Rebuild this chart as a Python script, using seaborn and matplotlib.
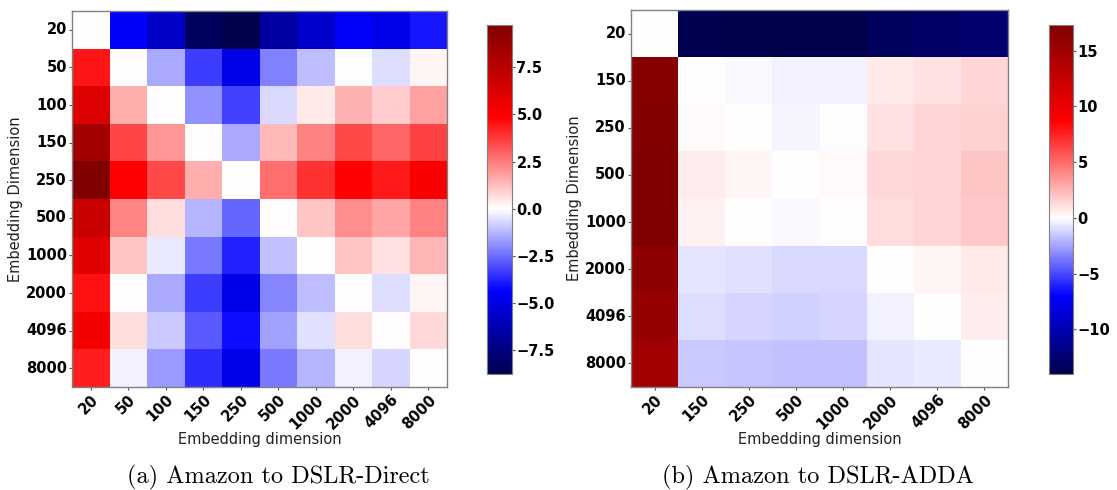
import numpy as np
import pandas as pd
import matplotlib
matplotlib.use("Agg")
import matplotlib.pyplot as plt
from matplotlib.colors import TwoSlopeNorm
import seaborn as sns

# ---------------- data ----------------
direct_dims = ["20", "50", "100", "150", "250", "500", "1000", "2000", "4096", "8000"]
direct_values = [
    [0.00, -4.40, -5.74, -8.33, -8.77, -6.70, -5.60, -4.50, -4.90, -4.00],
    [4.48, 0.00, -1.46, -3.35, -4.90, -2.19, -1.12, -0.05, -0.60, 0.20],
    [6.20, 1.53, 0.00, -1.89, -3.27, -0.64, 0.44, 1.47, 0.95, 1.81],
    [8.31, 3.53, 2.00, 0.00, -1.46, 1.34, 2.43, 3.50, 2.96, 3.63],
    [9.74, 4.87, 3.44, 1.53, 0.00, 2.77, 3.92, 4.85, 4.39, 5.06],
    [6.97, 2.29, 0.67, -1.29, -2.67, 0.00, 1.14, 2.20, 1.72, 2.43],
    [6.02, 1.14, -0.40, -2.32, -3.78, -1.03, 0.00, 1.14, 0.58, 1.43],
    [4.53, 0.00, -1.46, -3.35, -4.90, -2.06, -1.12, 0.00, -0.60, 0.20],
    [5.26, 0.63, -0.95, -2.84, -4.12, -1.63, -0.52, 0.63, 0.00, 0.76],
    [4.30, -0.22, -1.72, -3.61, -4.90, -2.32, -1.29, -0.22, -0.69, 0.00],
]
direct_cbar_ticks = [-7.5, -5.0, -2.5, 0.0, 2.5, 5.0, 7.5]

adda_dims = ["20", "150", "250", "500", "1000", "2000", "4096", "8000"]
adda_values = [
    [0.00, -13.7, -13.9, -14.0, -13.9, -13.3, -13.0, -12.5],
    [16.8, 0.00, -0.20, -0.40, -0.36, 0.78, 1.02, 1.46],
    [17.1, 0.24, 0.10, -0.30, -0.08, 1.02, 1.36, 1.60],
    [17.3, 0.58, 0.30, 0.00, 0.24, 1.26, 1.46, 1.93],
    [17.2, 0.44, 0.10, -0.20, 0.00, 1.19, 1.36, 1.87],
    [16.3, -0.74, -0.82, -1.02, -1.02, 0.00, 0.34, 0.78],
    [15.7, -0.96, -1.10, -1.29, -1.18, -0.41, 0.00, 0.58],
    [15.0, -1.51, -1.56, -1.73, -1.65, -0.74, -0.55, 0.00],
]
adda_cbar_ticks = [-10, -5, 0, 5, 10, 15]

axis_label_x = "Embedding dimension"
axis_label_y = "Embedding Dimension"
captions = ["(a) Amazon to DSLR-Direct", "(b) Amazon to DSLR-ADDA"]

# ---------------- figure ----------------
plt.rcParams["font.family"] = ["DejaVu Sans"]
plt.rcParams["font.weight"] = "bold"

W, H = 1117, 490
fig = plt.figure(figsize=(W / 100, H / 100), dpi=100)
fig.patch.set_facecolor("white")


def px_axes(x0, y0, x1, y1):
    return fig.add_axes([x0 / W, 1 - y1 / H, (x1 - x0) / W, (y1 - y0) / H])


panels = [
    dict(dims=direct_dims, vals=direct_values, ticks=direct_cbar_ticks,
         ax=(72, 11, 447, 387), cax=(487, 25, 512, 374), cap_x=278),
    dict(dims=adda_dims, vals=adda_values, ticks=adda_cbar_ticks,
         ax=(631, 10, 1008, 387), cax=(1049, 25, 1073, 374), cap_x=818),
]

for p in panels:
    df = pd.DataFrame(p["vals"], index=p["dims"], columns=p["dims"])
    vmin, vmax = float(df.values.min()), float(df.values.max())
    norm = TwoSlopeNorm(vmin=vmin, vcenter=0.0, vmax=vmax)
    ax = px_axes(*p["ax"])
    cax = px_axes(*p["cax"])
    sns.heatmap(df, ax=ax, cbar_ax=cax, cmap="seismic", norm=norm,
                linewidths=0)
    for sp in ax.spines.values():
        sp.set_visible(True)
        sp.set_color("#808080")
        sp.set_linewidth(1.0)
    ax.tick_params(axis="both", length=2.5, width=0.8, color="#555555",
                   pad=1.2)
    ax.tick_params(axis="y", labelsize=10.5)
    ax.tick_params(axis="x", labelsize=10.5)
    ax.set_xticklabels(p["dims"], rotation=45, ha="right",
                       rotation_mode="anchor", fontweight="bold")
    ax.set_yticklabels(p["dims"], rotation=0, fontweight="bold")
    ax.set_xlabel(axis_label_x, fontsize=10.5, fontweight="normal",
                  color="#222222")
    ax.set_ylabel(axis_label_y, fontsize=10.5, fontweight="normal",
                  color="#222222")
    ax.xaxis.set_label_coords(0.5, -0.12)
    ax.yaxis.set_label_coords(-0.13, 0.5)

    cb = ax.collections[0].colorbar
    cb.ax.set_yscale("linear")
    cb.set_ticks(p["ticks"])
    cb.outline.set_linewidth(0.8)
    cb.outline.set_edgecolor("#808080")
    cb.ax.tick_params(labelsize=10.5, length=2.0, width=0.8, color="#555555",
                      pad=1.2)
    for t in cb.ax.get_yticklabels():
        t.set_fontweight("bold")

for p, cap in zip(panels, captions):
    fig.text(p["cap_x"] / W, 1 - 477 / H, cap, ha="center", va="center",
             fontsize=17.5, fontweight="normal", family=["cmr10", "DejaVu Serif"])

fig.savefig("out.png", dpi=100, facecolor="white")
